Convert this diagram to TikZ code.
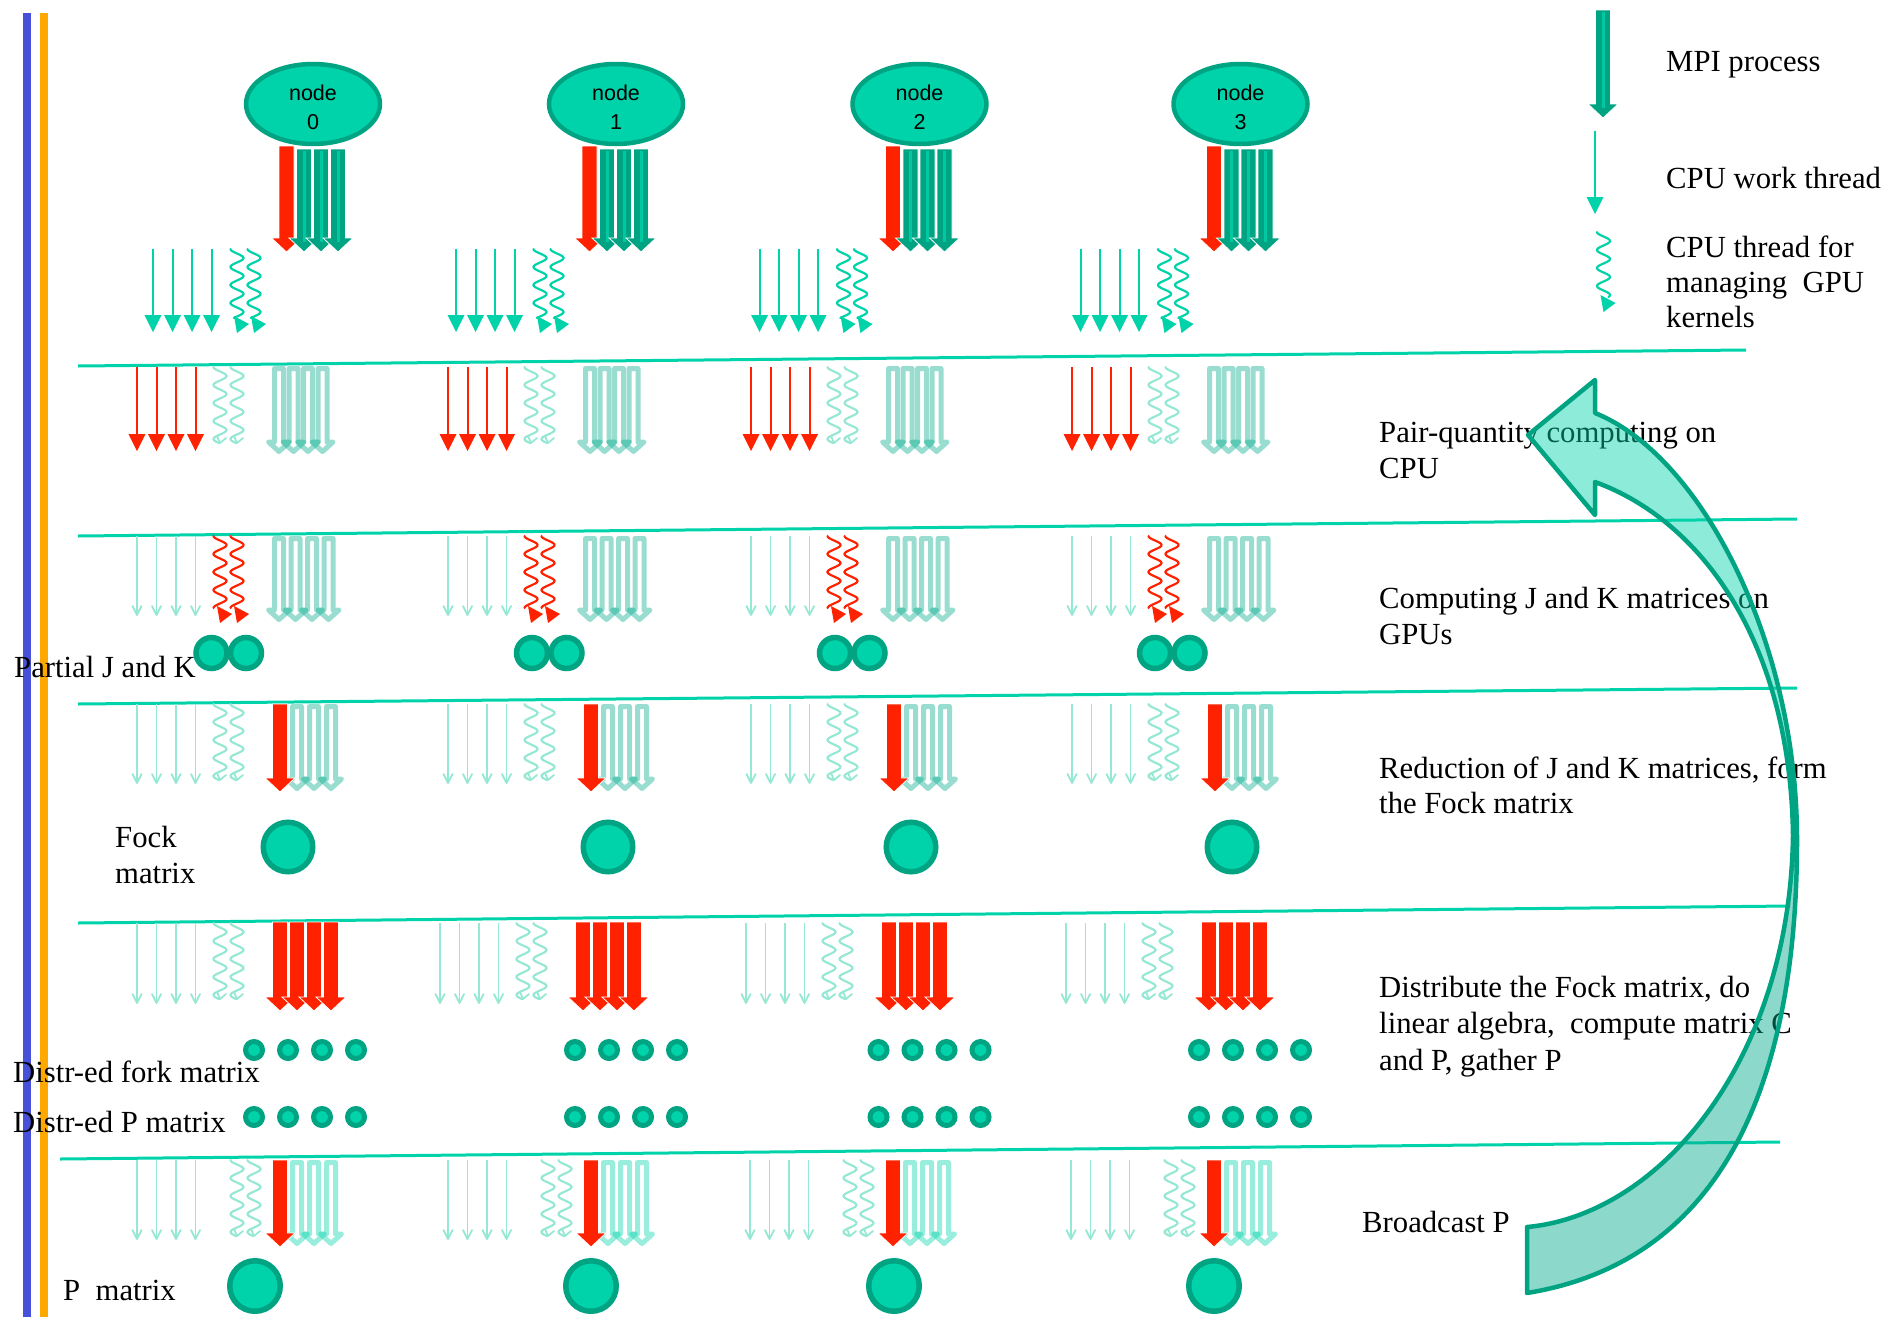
\documentclass[tikz,border=0pt]{standalone}
\usepackage{fontspec}
\setmainfont{Liberation Serif}
\newfontfamily\sansnode{Liberation Sans}
\usetikzlibrary{shapes.geometric}

\definecolor{tealA}{RGB}{0,210,170}
\definecolor{tealD}{RGB}{0,163,130}
\definecolor{redA}{RGB}{255,34,0}
\definecolor{pale}{RGB}{150,232,212}
\definecolor{stripe}{RGB}{0,200,160}
\definecolor{ghost}{RGB}{0,170,140}
\definecolor{barBlue}{RGB}{70,80,216}
\definecolor{barOrange}{RGB}{255,168,0}

\newcommand\LabelFont{\fontsize{30.7}{36}\selectfont}
\newcommand\NodeFont{\sansnode\fontsize{21.5}{29}\selectfont}

% thin thread arrow with a filled head: x, top, tip, colour
\newcommand\ThinArr[4]{%
  \draw[#4, line width=2pt] ({#1},{#2}) -- ({#1},{#3-12});
  \fill[#4] ({#1-8.5},{#3-17}) -- ({#1+8.5},{#3-17}) -- ({#1},{#3}) -- cycle;}
% idle thread arrow with an open head: x, top, tip
\newcommand\PaleArr[3]{%
  \draw[pale, line width=1.8pt] ({#1},{#2}) -- ({#1},{#3-1});
  \draw[pale, line width=1.8pt, line cap=round, line join=round]
    ({#1-4.5},{#3-9}) -- ({#1},{#3}) -- ({#1+4.5},{#3-9});}
% wavy GPU-managing thread: centre x, top, length, colour
\newcommand\Wave[4]{%
  \draw[#4, line width=2.2pt, line cap=round]
    plot[domain=0:#3, samples=90, variable=\t] ({#1-6.5*cos(20*\t)},{#2+\t});}
\newcommand\WaveHead[3]{%
  \fill[#3] ({#1-3},{#2-2}) -- ({#1+12},{#2+6}) -- ({#1},{#2+15}) -- cycle;}
\newcommand\WaveHook[2]{%
  \draw[pale, line width=1.8pt, line cap=round, line join=round]
    ({#1-3},{#2-7}) -- ({#1},{#2}) -- ({#1+6},{#2-5});}
% block arrow: centre x, top, tip, fill colour
\newcommand\FatArr[4]{%
  \filldraw[fill=#4, draw=white, line width=0.8pt, line join=miter]
    ({#1-7.5},{#2}) -- ({#1+7.5},{#2}) -- ({#1+7.5},{#3-14}) -- ({#1+15},{#3-14})
    -- ({#1},{#3}) -- ({#1-15},{#3-14}) -- ({#1-7.5},{#3-14}) -- cycle;}
% MPI process arrow: dark block with a light core
\newcommand\MpiArr[3]{%
  \FatArr{#1}{#2}{#3}{tealD}
  \draw[stripe, line width=3pt] ({#1},{#2+2}) -- ({#1},{#3-10});}
% faded (inactive) process arrow: centre x, top, tip, colour
\newcommand\GhostArr[4]{%
  \draw[#4, draw opacity=.4, line width=5pt, line join=round]
    ({#1-4.5},{#2+2.5}) -- ({#1+4.5},{#2+2.5}) -- ({#1+4.5},{#3-13})
    -- ({#1+10.5},{#3-13}) -- ({#1},{#3-3.5}) -- ({#1-10.5},{#3-13})
    -- ({#1-4.5},{#3-13}) -- cycle;}

\tikzset{
  sep/.style={draw=tealA, line width=3pt},
  lbl/.style={anchor=base west, inner sep=0, font=\LabelFont},
  proc/.style={ellipse, draw=tealD, fill=tealA, line width=4.5pt,
    minimum width=134pt, minimum height=80pt, inner sep=0},
  disc/.style={circle, draw=tealD, fill=tealA, inner sep=0},
  nodetext/.style={font=\NodeFont, anchor=base, inner sep=0},
}

\begin{document}
\begin{tikzpicture}[x=1pt,y=-1pt]
\useasboundingbox (0,0) rectangle (1887,1317);

% side bars
\draw[barBlue, line width=8.5pt] (27,13) -- (27,1317);
\draw[barOrange, line width=8pt] (44,13) -- (44,1317);

% stage separators
\coordinate (s1a) at (78,366);  \coordinate (s1b) at (1746,350);
\coordinate (s2a) at (78,536);  \coordinate (s2b) at (1797,519);
\coordinate (s3a) at (78,704);  \coordinate (s3b) at (1797,688);
\coordinate (s4a) at (78,923);  \coordinate (s4b) at (1790,906);
\coordinate (s5a) at (60,1159); \coordinate (s5b) at (1780,1142);
\foreach \s in {1,...,5} {\draw[sep] (s\s a) -- (s\s b);}

% one column per compute node
\foreach \col/\nx/\xb/\jk/\fk/\xe/\dotx/\xf/\pc in {
  0/313/137/211.5/288/137/254/137/255,
  1/616/448/532/608/440/575/448/591,
  2/919.5/751/835/911/746/878.5/750/894,
  3/1240.5/1072/1155/1232/1066/1199/1071/1214}{
  % process node with its MPI processes
  \node[proc] (node\col) at (\nx,104) {};
  \node[nodetext] (nodeA\col) at (\nx,100) {node};
  \node[nodetext] (nodeB\col) at (\nx,129) {\col};
  \FatArr{\nx-26.5}{146}{252}{redA}
  \MpiArr{\nx-9}{149}{252}
  \MpiArr{\nx+8}{149}{252}
  \MpiArr{\nx+25}{149}{252}
  \foreach \k in {0,19.5,39,58.5} {\ThinArr{\nx-160+\k}{249}{332}{tealA}}
  \Wave{\nx-76}{249}{69}{tealA}  \WaveHead{\nx-76}{318}{tealA}
  \Wave{\nx-59}{249}{69}{tealA}  \WaveHead{\nx-59}{318}{tealA}

  % pair-quantity computing on CPU
  \foreach \k in {0,19.5,39,58.5} {\ThinArr{\xb+\k}{367}{451}{redA}}
  \Wave{\xb+83}{367}{76}{pale}  \WaveHook{\xb+83}{443}
  \Wave{\xb+100}{367}{76}{pale} \WaveHook{\xb+100}{443}
  \foreach \k in {142,156.5,171,185.5} {\GhostArr{\xb+\k}{366}{455}{ghost}}

  % J and K on GPUs
  \foreach \k in {0,19.5,39,58.5} {\PaleArr{\xb+\k}{536}{615}}
  \Wave{\xb+83}{536}{72}{redA}  \WaveHead{\xb+83}{608}{redA}
  \Wave{\xb+100}{536}{72}{redA} \WaveHead{\xb+100}{608}{redA}
  \foreach \k in {142,158.5,175,191.5} {\GhostArr{\xb+\k}{536}{623}{ghost}}
  \node[disc, line width=5.5pt, minimum size=31pt] (jkA\col) at (\jk,653) {};
  \node[disc, line width=5.5pt, minimum size=31pt] (jkB\col) at (\jk+34.5,653) {};

  % reduction, Fock matrix
  \foreach \k in {0,19.5,39,58.5} {\PaleArr{\xb+\k}{704}{783}}
  \Wave{\xb+83}{704}{76}{pale}  \WaveHook{\xb+83}{780}
  \Wave{\xb+100}{704}{76}{pale} \WaveHook{\xb+100}{780}
  \foreach \k in {160,177,194} {\GhostArr{\xb+\k}{704}{792}{ghost}}
  \FatArr{\xb+143}{704}{792}{redA}
  \node[disc, line width=5.5pt, minimum size=49.5pt] (fock\col) at (\fk,847) {};

  % distribution and linear algebra
  \foreach \k in {0,19.5,39,58.5} {\PaleArr{\xe+\k}{923}{1003}}
  \Wave{\xe+83}{923}{76}{pale}  \WaveHook{\xe+83}{999}
  \Wave{\xe+100}{923}{76}{pale} \WaveHook{\xe+100}{999}
  \foreach \k in {143,160,177,194} {\FatArr{\xe+\k}{922}{1011}{redA}}
  \foreach \i in {0,...,3} {
    \node[disc, line width=5pt, minimum size=17pt] (fd\col\i) at (\dotx+34*\i,1050) {};
    \node[disc, line width=5pt, minimum size=17pt] (pd\col\i) at (\dotx+34*\i,1117) {};
  }

  % broadcast of P
  \foreach \k in {0,19.5,39,58.5} {\PaleArr{\xf+\k}{1160}{1239}}
  \Wave{\xf+100}{1160}{76}{pale} \WaveHook{\xf+100}{1236}
  \Wave{\xf+117}{1160}{76}{pale} \WaveHook{\xf+117}{1236}
  \foreach \k in {160,177,194} {\GhostArr{\xf+\k}{1160}{1247}{tealA}}
  \FatArr{\xf+143}{1160}{1247}{redA}
  \node[disc, line width=5.5pt, minimum size=50.5pt] (pm\col) at (\pc,1286) {};
}

% legend
\MpiArr{1603}{10}{118}
\ThinArr{1595}{131}{214}{tealA}
\Wave{1603.5}{232}{65}{tealA} \WaveHead{1603.5}{297}{tealA}
\node[lbl] (lg1) at (1666,71) {MPI process};
\node[lbl] (lg2) at (1666,188) {CPU work thread};
\node[lbl] (lg3) at (1666,257) {CPU thread for};
\node[lbl] (lg4) at (1666,292) {managing~ GPU};
\node[lbl] (lg5) at (1666,327) {kernels};

% stage descriptions
\node[lbl] (st1a) at (1379,442) {Pair-quantity computing on};
\node[lbl] (st1b) at (1379,478) {CPU};
\node[lbl] (st2a) at (1379,608) {Computing J and K matrices on};
\node[lbl] (st2b) at (1379,644) {GPUs};
\node[lbl] (st3a) at (1379,778) {Reduction of J and K matrices, form};
\node[lbl] (st3b) at (1379,813) {the Fock matrix};
\node[lbl] (st4a) at (1379,997) {Distribute the Fock matrix, do};
\node[lbl] (st4b) at (1379,1033) {linear algebra,~ compute matrix C};
\node[lbl] (st4c) at (1379,1070) {and P, gather P};
\node[lbl] (st5)  at (1362,1232) {Broadcast P};

% data labels on the left
\node[lbl] (dl1) at (14,677) {Partial J and K};
\node[lbl] (dl2) at (115,847) {Fock};
\node[lbl] (dl3) at (115,883) {matrix};
\node[lbl] (dl4) at (13,1082) {Distr-ed fork matrix};
\node[lbl] (dl5) at (13,1132) {Distr-ed P matrix};
\node[lbl] (dl6) at (63,1300) {P~ matrix};

% iteration arrow
\fill[tealA, fill opacity=.45] (1528,435) -- (1595,380) -- (1595,413)
  .. controls (1700,455) and (1797,640) .. (1797,840) -- (1793,835)
  .. controls (1790,640) and (1700,520) .. (1595,482) -- (1595,515) -- cycle;
\fill[ghost, fill opacity=.45] (1797,840)
  .. controls (1797,1070) and (1730,1260) .. (1527,1293) -- (1527,1227)
  .. controls (1660,1215) and (1790,1060) .. (1793,835) -- cycle;
\draw[tealD, line width=4.5pt, line join=round] (1528,435) -- (1595,380) -- (1595,413)
  .. controls (1700,455) and (1797,640) .. (1797,840)
  .. controls (1797,1070) and (1730,1260) .. (1527,1293) -- (1527,1227)
  .. controls (1660,1215) and (1790,1060) .. (1793,835)
  .. controls (1790,640) and (1700,520) .. (1595,482) -- (1595,515) -- cycle;
\end{tikzpicture}
\end{document}
